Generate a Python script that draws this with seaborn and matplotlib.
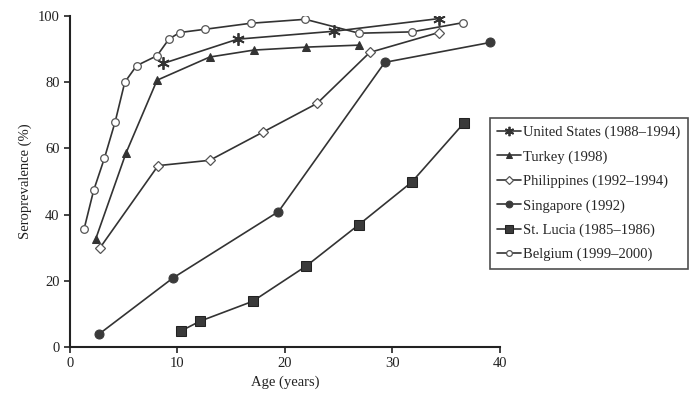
import numpy as np
import pandas as pd
import seaborn as sns
import matplotlib.pyplot as plt

# Age (years) and seroprevalence (%)
us_age = [8.7, 15.6, 24.6, 34.3]
us_val = [85.7, 93.0, 95.4, 99.2]

turkey_age = [2.4, 5.2, 8.1, 13.0, 17.1, 22.0, 26.9]
turkey_val = [32.7, 58.5, 80.6, 87.6, 89.7, 90.6, 91.2]

phil_age = [2.8, 8.2, 13.0, 18.0, 23.0, 27.9, 34.3]
phil_val = [30.0, 54.8, 56.4, 65.0, 73.6, 89.0, 95.0]

sing_age = [2.7, 9.6, 19.4, 29.3, 39.1]
sing_val = [3.9, 20.9, 40.9, 86.0, 92.0]

lucia_age = [10.3, 12.1, 17.0, 22.0, 26.9, 31.8, 36.7]
lucia_val = [4.8, 7.8, 13.8, 24.5, 37.0, 49.8, 67.8]

belg_age = [1.3, 2.2, 3.2, 4.2, 5.1, 6.2, 8.1, 9.2, 10.2, 12.6, 16.8, 21.9, 26.9, 31.8, 36.6]
belg_val = [35.5, 47.3, 57.0, 68.0, 80.0, 85.0, 88.0, 93.0, 95.0, 96.0, 97.8, 99.0, 94.8, 95.2, 98.0]

labels = ["United States (1988\u20131994)", "Turkey (1998)", "Philippines (1992\u20131994)",
          "Singapore (1992)", "St. Lucia (1985\u20131986)", "Belgium (1999\u20132000)"]

sns.set_style("ticks")
plt.rcParams['font.family'] = ['Liberation Serif', 'DejaVu Serif']

fig = plt.figure(figsize=(6.91, 3.95), dpi=100)
ax = fig.add_axes([0.1013, 0.1215, 0.622, 0.838])

dark = "#333333"
series = [
    (us_age, us_val, dict(marker=(6, 2, 0), markersize=9, markerfacecolor=dark, markeredgecolor=dark, markeredgewidth=1.3)),
    (turkey_age, turkey_val, dict(marker="^", markersize=5.5, markerfacecolor=dark, markeredgecolor=dark)),
    (phil_age, phil_val, dict(marker="D", markersize=5, markerfacecolor="white", markeredgecolor="#555555", markeredgewidth=0.9)),
    (sing_age, sing_val, dict(marker="o", markersize=6.5, markerfacecolor="#3a3a3a", markeredgecolor="#3a3a3a")),
    (lucia_age, lucia_val, dict(marker="s", markersize=7.5, markerfacecolor="#3a3a3a", markeredgecolor="#222222")),
    (belg_age, belg_val, dict(marker="o", markersize=5.5, markerfacecolor="white", markeredgecolor="#555555", markeredgewidth=0.9)),
]

for (xs, ys, style), lab in zip(series, labels):
    df = pd.DataFrame({"age": xs, "sero": ys})
    sns.lineplot(data=df, x="age", y="sero", ax=ax, color=dark, linewidth=1.2,
                 label=lab, sort=False, **style)

ax.set_xlim(0, 40)
ax.set_ylim(0, 100)
ax.set_xticks([0, 10, 20, 30, 40])
ax.set_yticks([0, 20, 40, 60, 80, 100])
ax.spines['top'].set_visible(False)
ax.spines['right'].set_visible(False)
ax.spines['left'].set_linewidth(1.5)
ax.spines['bottom'].set_linewidth(1.5)
ax.spines['left'].set_color("#222222")
ax.spines['bottom'].set_color("#222222")
ax.tick_params(direction='out', length=4, width=1.2, labelsize=10.5, colors="#222222")
ax.set_xlabel("Age (years)", fontsize=10.5, color="#222222")
ax.set_ylabel("Seroprevalence (%)", fontsize=10.5, color="#222222")

leg = ax.legend(loc="upper left", bbox_to_anchor=(0.709, 0.70), bbox_transform=fig.transFigure,
                frameon=True, fancybox=False, fontsize=10.5, handlelength=1.6,
                handletextpad=0.2, labelspacing=0.75, borderpad=0.5, borderaxespad=0)
leg.get_frame().set_edgecolor("#222222")
leg.get_frame().set_linewidth(1.2)
for h in leg.legend_handles:
    h.set_markersize(h.get_markersize() * 0.75)

fig.savefig("out.png", dpi=100)
